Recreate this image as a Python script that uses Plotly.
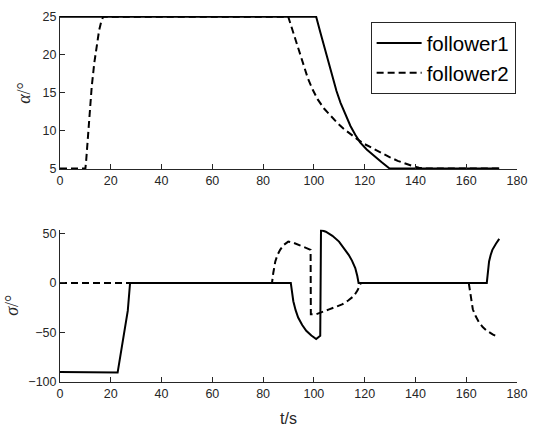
import plotly.graph_objects as go

# ---- angle of attack alpha (deg) ----
t_alpha_f1 = [0, 100.9, 102.5, 104.1, 105.7, 107.3, 108.9, 110.5, 112.5, 114.4, 116.3,
              118.2, 120.8, 123.4, 126.6, 129.8, 173]
alpha_f1 = [25, 25, 23.0, 21.0, 18.9, 16.9, 15.2, 13.65, 12.0, 10.6, 9.45,
            8.43, 7.5, 6.7, 5.85, 5.0, 5.0]

t_alpha_f2 = [0, 10.0, 10.3, 11.0, 11.6, 12.5, 13.5, 14.5, 15.4, 16.2, 17.0,
              89.9, 91.8, 93.8, 95.7, 97.6, 99.5, 101.5, 104.0, 106.7, 109.2, 111.8,
              114.3, 116.9, 120.0, 123.4, 126.6, 129.8, 133.0, 136.2, 139.0, 141.4, 144.0, 173]
alpha_f2 = [5, 5, 6.0, 9.2, 12.3, 15.8, 18.9, 21.3, 23.2, 24.3, 25,
            25, 23.0, 21.0, 18.9, 16.9, 15.4, 14.1, 12.9, 11.9, 11.0, 10.2,
            9.5, 8.9, 8.2, 7.6, 7.0, 6.5, 6.0, 5.6, 5.3, 5.1, 5.0, 5.0]

# ---- bank angle sigma (deg) ----
t_sigma_f1 = [0, 22.7, 26.7, 27.2, 27.6, 90.9, 91.3, 91.9, 92.8, 93.8, 95.4, 97.0,
              99.0, 100.9, 102.5, 102.8, 104.7, 107.3, 109.9, 111.8, 113.7, 115.0,
              116.3, 117.1, 117.6, 168.1, 168.4, 169.0, 169.6, 170.3, 171.7, 173.0]
sigma_f1 = [-90, -90.5, -28, -12, 0, 0, -10, -18.5, -27.5, -35, -42.5, -48.3,
            -53, -56.6, -53.3, 53.4, 51.7, 47.5, 41.7, 35.5, 28.4, 22.5,
            15, 7, 0, 0, 10, 21.7, 28, 33.4, 39.5, 44.4]

t_sigma_f2 = [0, 83.5, 84.0, 84.8, 85.7, 86.7, 88.2, 89.9, 92.0, 94.4, 96.5, 98.7,
              98.8, 100.9, 106.0, 111.1, 113.5, 115.7, 117.2, 118.5,
              161.0, 161.5, 162.6, 163.8, 165.1, 166.5, 168.0, 170.4, 172.8]
sigma_f2 = [0, 0, 10, 21.7, 28.5, 33.4, 38.5, 41.7, 40.5, 37.7, 35.5, 33.4,
            -31.6, -31.6, -26.7, -21.7, -17.8, -13.3, -7.5, 0,
            0, -10, -26.6, -34, -40, -44.5, -48, -52, -55]

x_ticks = list(range(0, 181, 20))
alpha_ticks = [5, 10, 15, 20, 25]
sigma_ticks = [-100, -50, 0, 50]

INK = "#262626"
FONT = "Liberation Sans, Arial, sans-serif"
SERIF = "Liberation Serif, serif"
solid = dict(color="black", width=2)
dashed = dict(color="black", width=2, dash="7px,4px")

fig = go.Figure()
fig.add_trace(go.Scatter(x=t_alpha_f1, y=alpha_f1, mode="lines", line=solid,
                         name="follower1", xaxis="x", yaxis="y"))
fig.add_trace(go.Scatter(x=t_alpha_f2, y=alpha_f2, mode="lines", line=dashed,
                         name="follower2", xaxis="x", yaxis="y"))
fig.add_trace(go.Scatter(x=t_sigma_f2, y=sigma_f2, mode="lines", line=dashed,
                         showlegend=False, xaxis="x2", yaxis="y2"))
fig.add_trace(go.Scatter(x=t_sigma_f1, y=sigma_f1, mode="lines", line=solid,
                         showlegend=False, xaxis="x2", yaxis="y2"))

axis_style = dict(showline=True, linecolor=INK, linewidth=1, ticks="inside",
                  ticklen=5, tickcolor=INK, showgrid=False, zeroline=False,
                  ticklabeloverflow="allow",
                  tickfont=dict(family=FONT, size=12.5, color=INK))

fig.update_layout(
    width=537, height=429,
    margin=dict(l=60, r=10, t=14, b=47),
    paper_bgcolor="white", plot_bgcolor="white",
    xaxis=dict(domain=[0, 1], anchor="y", range=[0, 180], tickvals=x_ticks, **axis_style),
    yaxis=dict(domain=[0.5815, 1], anchor="x", range=[4.9, 25.1], tickvals=alpha_ticks, **axis_style),
    xaxis2=dict(domain=[0, 1], anchor="y2", range=[0, 180], tickvals=x_ticks, **axis_style),
    yaxis2=dict(domain=[0, 0.4158], anchor="x2", range=[-100, 53.6], tickvals=sigma_ticks, **axis_style),
    legend=dict(x=0.997, y=0.983, xanchor="right", yanchor="top",
                bgcolor="white", bordercolor=INK, borderwidth=1,
                font=dict(family=FONT, size=20.5, color="black"),
                itemwidth=45, tracegroupgap=0),
    showlegend=True,
    annotations=[
        dict(text="<i>α</i>/°", xref="paper", yref="paper", x=0, y=0.79,
             xanchor="center", yanchor="middle", xshift=-36, textangle=-90,
             showarrow=False, font=dict(family=SERIF, size=18, color=INK)),
        dict(text="<i>σ</i>/°", xref="paper", yref="paper", x=0, y=0.208,
             xanchor="center", yanchor="middle", xshift=-48, textangle=-90,
             showarrow=False, font=dict(family=SERIF, size=18, color=INK)),
        dict(text="t/s", xref="paper", yref="paper", x=0.5, y=0,
             xanchor="center", yanchor="middle", yshift=-36,
             showarrow=False, font=dict(family=FONT, size=16, color=INK)),
    ],
)

fig.write_html("out.html")
